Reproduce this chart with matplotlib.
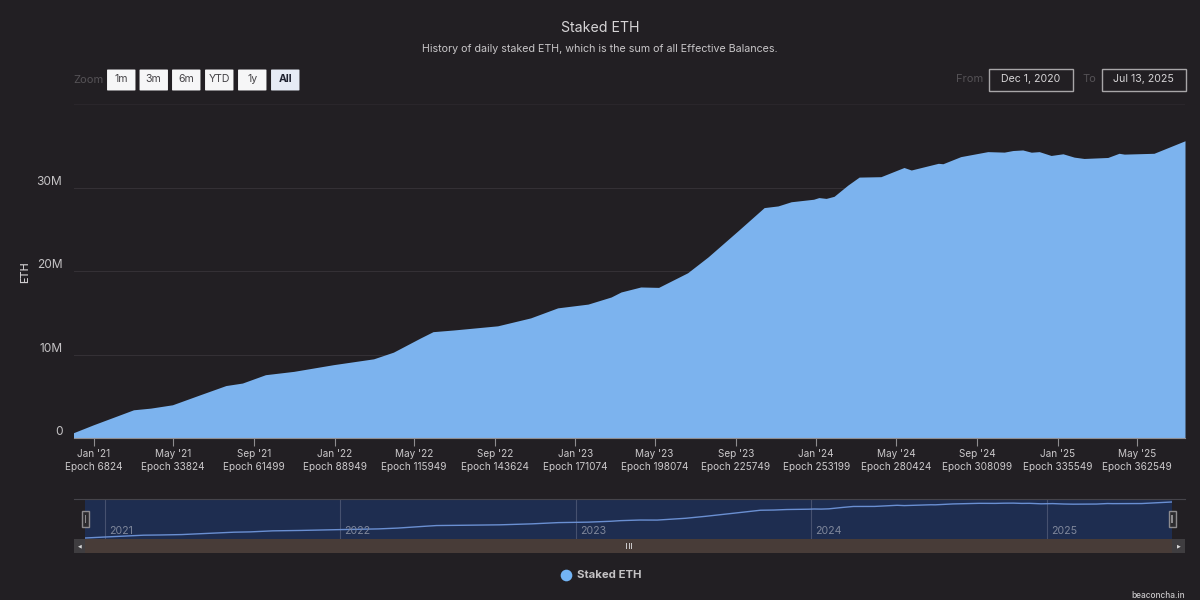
import numpy as np
import pandas as pd
import matplotlib
matplotlib.use("Agg")
import matplotlib.pyplot as plt
import matplotlib.dates as mdates
from matplotlib.patches import Rectangle, FancyBboxPatch

plt.rcParams['font.family'] = ['Inter', 'DejaVu Sans']

START = pd.Timestamp("2020-12-01")
END = pd.Timestamp("2025-07-13")

days_since_start = [0, 30, 91, 117, 150, 192, 231, 256, 291, 334, 394, 455, 485, 526, 545, 576,
                    643, 693, 734, 780, 815, 830, 860, 887, 931, 962, 1007, 1047, 1068, 1088,
                    1122, 1130, 1141, 1153, 1174, 1191, 1224, 1259, 1270, 1311, 1318, 1345,
                    1386, 1411, 1424, 1439, 1452, 1464, 1482, 1500, 1517, 1532, 1568, 1585,
                    1593, 1638, 1685]
staked_eth_m = [0.66, 1.6, 3.4, 3.6, 4.0, 5.2, 6.3, 6.6, 7.6, 8.0, 8.8, 9.5, 10.3, 12.0, 12.75, 12.95,
                13.45, 14.4, 15.6, 16.05, 16.9, 17.5, 18.1, 18.05, 19.8, 21.7, 24.8, 27.6, 27.8, 28.3,
                28.6, 28.8, 28.7, 28.95, 30.3, 31.25, 31.3, 32.4, 32.1, 32.9, 32.85, 33.7,
                34.3, 34.24, 34.43, 34.5, 34.23, 34.3, 33.84, 34.04, 33.64, 33.48, 33.6, 34.1,
                34.0, 34.1, 35.6]

tick_dates = ["2021-01-01", "2021-05-01", "2021-09-01", "2022-01-01", "2022-05-01", "2022-09-01",
              "2023-01-01", "2023-05-01", "2023-09-01", "2024-01-01", "2024-05-01", "2024-09-01",
              "2025-01-01", "2025-05-01"]
tick_months = ["Jan '21", "May '21", "Sep '21", "Jan '22", "May '22", "Sep '22", "Jan '23",
               "May '23", "Sep '23", "Jan '24", "May '24", "Sep '24", "Jan '25", "May '25"]
tick_epochs = [6824, 33824, 61499, 88949, 115949, 143624, 171074, 198074, 225749, 253199,
               280424, 308099, 335549, 362549]
y_ticks = [0, 10, 20, 30, 40]
y_tick_labels = ["0", "10M", "20M", "30M", ""]
nav_years = ["2021", "2022", "2023", "2024", "2025"]
zoom_buttons = ["1m", "3m", "6m", "YTD", "1y", "All"]

BG = "#221f23"
BLUE = "#7cb3ee"
W, H = 1200, 600

dates = START + pd.to_timedelta(days_since_start, unit="D")

fig = plt.figure(figsize=(12, 6), dpi=100, facecolor=BG)


def fx(x):
    return x / W


def fy(y):
    return 1 - y / H


def axes_px(x0, y0, x1, y1):
    return fig.add_axes([fx(x0), fy(y1), (x1 - x0) / W, (y1 - y0) / H])


def frect(x0, y0, x1, y1, **kw):
    fig.add_artist(Rectangle((fx(x0), fy(y1)), (x1 - x0) / W, (y1 - y0) / H,
                             transform=fig.transFigure, **kw))


# main chart
ax = axes_px(73.5, 104, 1185, 438.2)
ax.set_facecolor(BG)
ax.fill_between(dates, staked_eth_m, 0, color=BLUE, linewidth=0, zorder=3)
ax.set_xlim(START, END)
ax.set_ylim(0, 40)
ax.set_yticks(y_ticks)
ax.set_yticklabels(y_tick_labels, fontsize=8.6, color="#c4c2c4", va="bottom")
ax.tick_params(axis="y", length=0, pad=8)
ax.set_xticks(pd.to_datetime(tick_dates))
ax.set_xticklabels([f"{m}\nEpoch {e}" for m, e in zip(tick_months, tick_epochs)],
                   fontsize=7.2, color="#cac8ca", linespacing=1.3)
ax.tick_params(axis="x", length=6, width=0.8, color="#8f8d90", pad=2)
ax.grid(axis="y", color="#343035", linewidth=0.8, zorder=1)
ax.get_ygridlines()[-1].set_color("#2a262b")
for s in ["top", "left", "right"]:
    ax.spines[s].set_visible(False)
ax.spines["bottom"].set_color("#8f8d90")
ax.spines["bottom"].set_linewidth(0.8)
ax.spines["bottom"].set_zorder(4)

fig.text(fx(25), fy(272), "ETH", rotation=90, ha="center", va="center", fontsize=7.8,
         color="#d0ced0", fontweight="medium")
fig.text(fx(600), fy(27.5), "Staked ETH", ha="center", va="center", fontsize=10.2, color="#d6d4d6")
fig.text(fx(600), fy(48.5), "History of daily staked ETH, which is the sum of all Effective Balances.",
         ha="center", va="center", fontsize=7.7, color="#c8c6c8")

# range selector
fig.text(fx(88.5), fy(80), "Zoom", ha="center", va="center", fontsize=8, color="#555256")
btn_left = [107, 139.5, 172, 205, 238, 271]
for label, left in zip(zoom_buttons, btn_left):
    active = label == "All"
    fig.add_artist(FancyBboxPatch((fx(left + 1), fy(90)), 26.5 / W, 20 / H,
                                  boxstyle="round,pad=0.0008", transform=fig.transFigure,
                                  fc="#e6ebf5" if active else "#f6f6f7", ec="none"))
    fig.text(fx(left + 14.2), fy(79.5), label, ha="center", va="center", fontsize=7.6,
             color="#1f2230" if active else "#444246", fontweight="bold" if active else "normal")

fig.text(fx(969.5), fy(79.5), "From", ha="center", va="center", fontsize=8, color="#555256")
fig.text(fx(1089), fy(79.5), "To", ha="center", va="center", fontsize=8, color="#555256")
for (x0, x1), txt in zip([(989, 1072.5), (1101.5, 1186)], ["Dec 1, 2020", "Jul 13, 2025"]):
    frect(x0, 69.5, x1, 90.5, fc=BG, ec="#a8a6a8", lw=1)
    fig.text(fx((x0 + x1) / 2), fy(79.5), txt, ha="center", va="center", fontsize=7.6, color="#d6d4d6")

# navigator
nav = axes_px(85, 499, 1172, 539)
nav.set_facecolor("#1e2d50")
nav.plot(dates, staked_eth_m, color="#6a8fd2", lw=1.0, zorder=3)
nav.set_xlim(START, END)
nav.set_ylim(-0.3, 38.5)
nav.set_xticks([])
nav.set_yticks([])
for s in nav.spines.values():
    s.set_visible(False)
for yr in nav_years:
    d = pd.Timestamp(f"{yr}-01-01")
    nav.axvline(d, color="#46516f", lw=0.8, zorder=2)
    nav.annotate(yr, (mdates.date2num(d), 0), xycoords=("data", "axes fraction"),
                 xytext=(4, 3), textcoords="offset pixels", fontsize=7.6, color="#7f879b",
                 ha="left", va="bottom")
fig.add_artist(plt.Line2D([fx(74), fx(1185)], [fy(499), fy(499)], transform=fig.transFigure,
                          color="#46444a", lw=0.8))

# scrollbar
frect(74, 539, 1185, 553, fc="#483c38", ec="none")
frect(74, 539, 85, 553, fc="#3f3d40", ec="none")
frect(1172, 539, 1185, 553, fc="#3f3d40", ec="none")
fig.text(fx(79.5), fy(546), "◀", ha="center", va="center", fontsize=3.5, color="#d8d8d8", family="DejaVu Sans")
fig.text(fx(1178.5), fy(546), "▶", ha="center", va="center", fontsize=3.5, color="#d8d8d8", family="DejaVu Sans")
for gx in [626.5, 629, 631.5]:
    frect(gx - 0.5, 543, gx + 0.5, 549, fc="#c8c6c8", ec="none")
for cx in [85.5, 1172]:
    frect(cx - 3.5, 511, cx + 3.5, 526.5, fc="#2c2b2e", ec="#8d8b8e", lw=1)
    frect(cx - 0.7, 515, cx + 0.7, 522.5, fc="#8d8b8e", ec="none")

# legend
fig.add_artist(plt.Line2D([fx(566)], [fy(575)], marker="o", ms=8.4, color="#73b4f5", mec="none",
                          transform=fig.transFigure))
fig.text(fx(577), fy(575.5), "Staked ETH", ha="left", va="center", fontsize=8.2, color="#c4c2c4",
         fontweight="bold")
fig.text(fx(1185), fy(595), "beaconcha.in", ha="right", va="center", fontsize=6, color="#c8c6c8",
         fontweight="medium")

fig.savefig("out.png", dpi=100, facecolor=BG)
